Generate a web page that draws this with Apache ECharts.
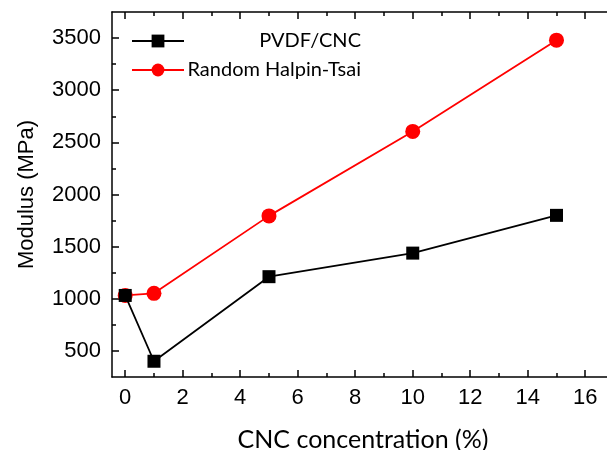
<!DOCTYPE html>
<html>
<head>
<meta charset="utf-8">
<script src="https://cdn.jsdelivr.net/npm/echarts@6/dist/echarts.min.js"></script>
<style>html,body{margin:0;padding:0;background:#fff}#c{width:607px;height:450px}</style>
</head>
<body>
<div id="c"></div>
<script>
var xValues = [0, 1, 5, 10, 15];
var pvdfCnc = [1032, 401, 1212, 1438, 1800];
var halpinTsai = [1032, 1052, 1795, 2605, 3480];
var xMajorTicks = [0, 2, 4, 6, 8, 10, 12, 14, 16];
var xMinorTicks = [1, 3, 5, 7, 9, 11, 13, 15, 17];
var yMajorTicks = [500, 1000, 1500, 2000, 2500, 3000, 3500];
var yMinorTicks = [750, 1250, 1750, 2250, 2750, 3250];
var seriesNames = ['PVDF/CNC', 'Random Halpin-Tsai'];

var X_MIN = -0.46, X_MAX = 17, Y_MIN = 250, Y_MAX = 3750;
var sans = '"Liberation Sans", Arial, sans-serif';
var cal = 'Lato, "Open Sans", sans-serif';
var lineCol = '#000';
function plain(v) { return String(v); }

function xAx(pos, ticks, len, showLabel, showLine) {
  return {
    type: 'value', position: pos, min: X_MIN, max: X_MAX,
    axisLine: {show: showLine, onZero: false, lineStyle: {color: lineCol, width: 1.5}},
    axisTick: {show: true, inside: true, length: len, customValues: ticks, lineStyle: {color: lineCol, width: 1.5}},
    axisLabel: {show: showLabel, customValues: ticks, formatter: plain, color: '#000', fontFamily: sans, fontSize: 22, margin: 10},
    splitLine: {show: false}
  };
}
function yAx(ticks, len, showLabel, showLine) {
  return {
    type: 'value', position: 'left', min: Y_MIN, max: Y_MAX,
    axisLine: {show: showLine, onZero: false, lineStyle: {color: lineCol, width: 1.5}},
    axisTick: {show: true, inside: true, length: len, customValues: ticks, lineStyle: {color: lineCol, width: 1.5}},
    axisLabel: {show: showLabel, customValues: ticks, formatter: plain, color: '#000', fontFamily: sans, fontSize: 22, margin: 11},
    splitLine: {show: false}
  };
}

var xBottom = xAx('bottom', xMajorTicks, 7, true, true);
xBottom.name = 'CNC concentration (%)';
xBottom.nameLocation = 'middle';
xBottom.nameGap = 50;
xBottom.nameTextStyle = {color: '#000', fontFamily: cal, fontSize: 25};

var yLeft = yAx(yMajorTicks, 7, true, true);
yLeft.name = 'Modulus (MPa)';
yLeft.nameLocation = 'middle';
yLeft.nameGap = 74;
yLeft.nameTextStyle = {color: '#000', fontFamily: sans, fontSize: 22};

var chart = echarts.init(document.getElementById('c'), null, {renderer: 'canvas'});
chart.setOption({
  animation: false,
  backgroundColor: '#fff',
  grid: {left: 112, top: 12, right: -7, bottom: 73, containLabel: false, outerBoundsMode: 'none'},
  legend: {
    orient: 'vertical', left: 129, top: 29, itemWidth: 52, itemHeight: 16, itemGap: 9, padding: 2,
    data: seriesNames,
    formatter: function (n) { return '{t|' + n + '}'; },
    textStyle: {
      color: '#000', fontFamily: cal, fontSize: 20,
      rich: {t: {width: 172, align: 'right', color: '#000', fontFamily: cal, fontSize: 20}}
    }
  },
  xAxis: [
    xBottom,
    xAx('bottom', xMinorTicks, 4, false, false),
    xAx('top', xMajorTicks, 7, false, true),
    xAx('top', xMinorTicks, 4, false, false)
  ],
  yAxis: [
    yLeft,
    yAx(yMinorTicks, 4, false, false)
  ],
  series: [
    {
      name: seriesNames[0], type: 'line', xAxisIndex: 0, yAxisIndex: 0,
      data: xValues.map(function (x, i) { return [x, pvdfCnc[i]]; }),
      symbol: 'rect', symbolSize: 13,
      lineStyle: {color: '#000', width: 1.8},
      itemStyle: {color: '#000'}, z: 3
    },
    {
      name: seriesNames[1], type: 'line', xAxisIndex: 0, yAxisIndex: 0,
      data: xValues.map(function (x, i) { return [x, halpinTsai[i]]; }),
      symbol: 'circle', symbolSize: 15,
      lineStyle: {color: '#ff0000', width: 1.8},
      itemStyle: {color: '#ff0000'}, z: 2
    }
  ]
});
</script>
</body>
</html>
